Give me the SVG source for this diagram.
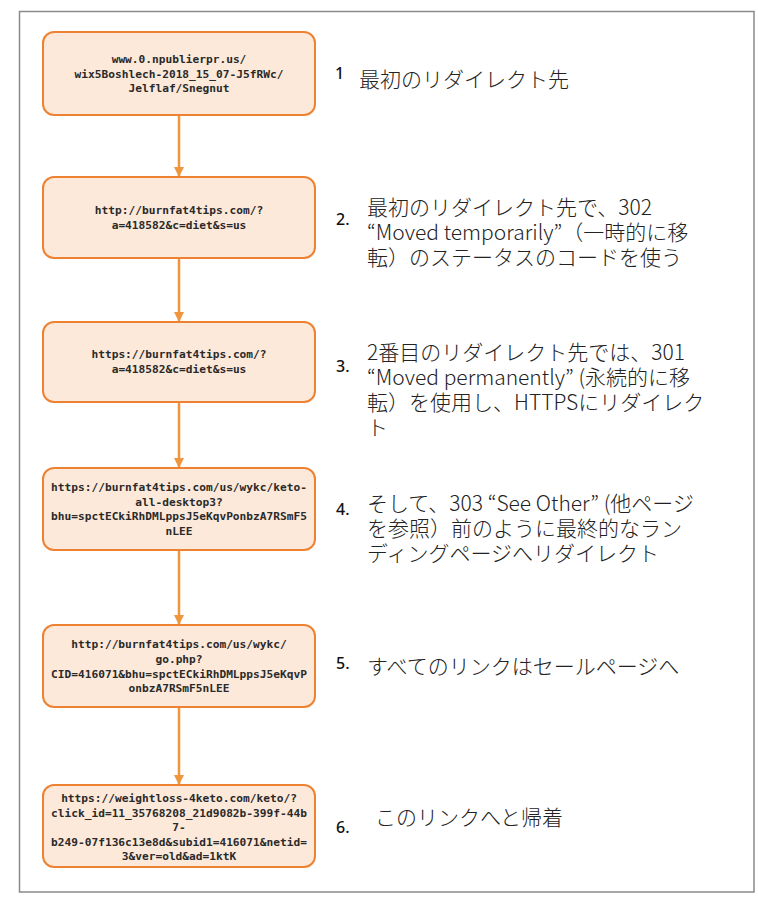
<svg xmlns="http://www.w3.org/2000/svg" width="758" height="904" viewBox="0 0 758 904">
<defs>
<style>
.box{fill:#FDE9D9;stroke:#EE8233;stroke-width:2}
.url{font-family:"DejaVu Sans Mono","Liberation Mono",monospace;font-size:11.2px;font-weight:bold;fill:#2a2a2a;text-anchor:middle}
.jp{font-family:"Noto Sans CJK JP","Noto Sans",sans-serif;font-size:21px;font-weight:300;fill:#222}
.num{font-family:"Noto Sans","Liberation Sans",sans-serif;font-size:16px;font-weight:500;fill:#111}
.arr{stroke:#F0953C;stroke-width:2.5;fill:none}
</style>
<marker id="ah" markerWidth="10" markerHeight="10" refX="9" refY="5" orient="auto" markerUnits="userSpaceOnUse" viewBox="0 0 10 10">
<path d="M0,0 L10,5 L0,10 z" fill="#F0953C"/>
</marker>
</defs>
<rect x="0" y="0" width="758" height="904" fill="#fff"/>
<rect x="19.5" y="11.5" width="734.5" height="880.5" fill="#fff" stroke="#8a8a8a" stroke-width="1.5"/>

<g id="connectors">
<line class="arr" x1="179" y1="115" x2="179" y2="176" marker-end="url(#ah)"/>
<line class="arr" x1="179" y1="258" x2="179" y2="321" marker-end="url(#ah)"/>
<line class="arr" x1="179" y1="402" x2="179" y2="467" marker-end="url(#ah)"/>
<line class="arr" x1="179" y1="550" x2="179" y2="624" marker-end="url(#ah)"/>
<line class="arr" x1="179" y1="707" x2="179" y2="784" marker-end="url(#ah)"/>
</g>

<g id="node1">
<rect class="box" x="43" y="32" width="272" height="83" rx="11"/>
<text class="url" x="179" y="63">www.0.npublierpr.us/</text>
<text class="url" x="179" y="78">wix5Boshlech-2018_15_07-J5fRWc/</text>
<text class="url" x="179" y="92">Jelflaf/Snegnut</text>
</g>
<g id="node2">
<rect class="box" x="43" y="177" width="272" height="81" rx="11"/>
<text class="url" x="179" y="214">http://burnfat4tips.com/?</text>
<text class="url" x="179" y="229">a=418582&amp;c=diet&amp;s=us</text>
</g>
<g id="node3">
<rect class="box" x="43" y="322" width="272" height="80" rx="11"/>
<text class="url" x="179" y="358">https://burnfat4tips.com/?</text>
<text class="url" x="179" y="373">a=418582&amp;c=diet&amp;s=us</text>
</g>
<g id="node4">
<rect class="box" x="43" y="468" width="272" height="82" rx="11"/>
<text class="url" x="179" y="491">https://burnfat4tips.com/us/wykc/keto-</text>
<text class="url" x="179" y="506">all-desktop3?</text>
<text class="url" x="179" y="520">bhu=spctECkiRhDMLppsJ5eKqvPonbzA7RSmF5</text>
<text class="url" x="179" y="535">nLEE</text>
</g>
<g id="node5">
<rect class="box" x="43" y="625" width="272" height="82" rx="11"/>
<text class="url" x="179" y="648">http://burnfat4tips.com/us/wykc/</text>
<text class="url" x="179" y="663">go.php?</text>
<text class="url" x="179" y="678">CID=416071&amp;bhu=spctECkiRhDMLppsJ5eKqvP</text>
<text class="url" x="179" y="692">onbzA7RSmF5nLEE</text>
</g>
<g id="node6">
<rect class="box" x="43" y="785" width="272" height="82" rx="11"/>
<text class="url" x="179" y="802">https://weightloss-4keto.com/keto/?</text>
<text class="url" x="179" y="817">click_id=11_35768208_21d9082b-399f-44b</text>
<text class="url" x="179" y="831">7-</text>
<text class="url" x="179" y="846">b249-07f136c13e8d&amp;subid1=416071&amp;netid=</text>
<text class="url" x="179" y="860">3&amp;ver=old&amp;ad=1ktK</text>
</g>

<g id="label1">
<text class="num" x="335" y="79">1</text>
<text class="jp" x="359" y="87">最初のリダイレクト先</text>
</g>
<g id="label2">
<text class="num" x="336" y="225">2.</text>
<text class="jp" x="367" y="215"><tspan x="367" y="215">最初のリダイレクト先で、302</tspan><tspan x="367" y="240">“Moved temporarily”（一時的に移</tspan><tspan x="367" y="265">転）のステータスのコードを使う</tspan></text>
</g>
<g id="label3">
<text class="num" x="336" y="372">3.</text>
<text class="jp" x="367" y="360"><tspan x="367" y="360">2番目のリダイレクト先では、301</tspan><tspan x="367" y="385">“Moved permanently” (永続的に移</tspan><tspan x="367" y="410">転）を使用し、HTTPSにリダイレク</tspan><tspan x="367" y="435">ト</tspan></text>
</g>
<g id="label4">
<text class="num" x="336" y="515">4.</text>
<text class="jp" x="367" y="511"><tspan x="367" y="511">そして、303 “See Other” (他ページ</tspan><tspan x="367" y="536">を参照）前のように最終的なラン</tspan><tspan x="367" y="561">ディングページへリダイレクト</tspan></text>
</g>
<g id="label5">
<text class="num" x="336" y="669">5.</text>
<text class="jp" x="367" y="674">すべてのリンクはセールページへ</text>
</g>
<g id="label6">
<text class="num" x="336" y="833">6.</text>
<text class="jp" x="375" y="825">このリンクへと帰着</text>
</g>
</svg>
